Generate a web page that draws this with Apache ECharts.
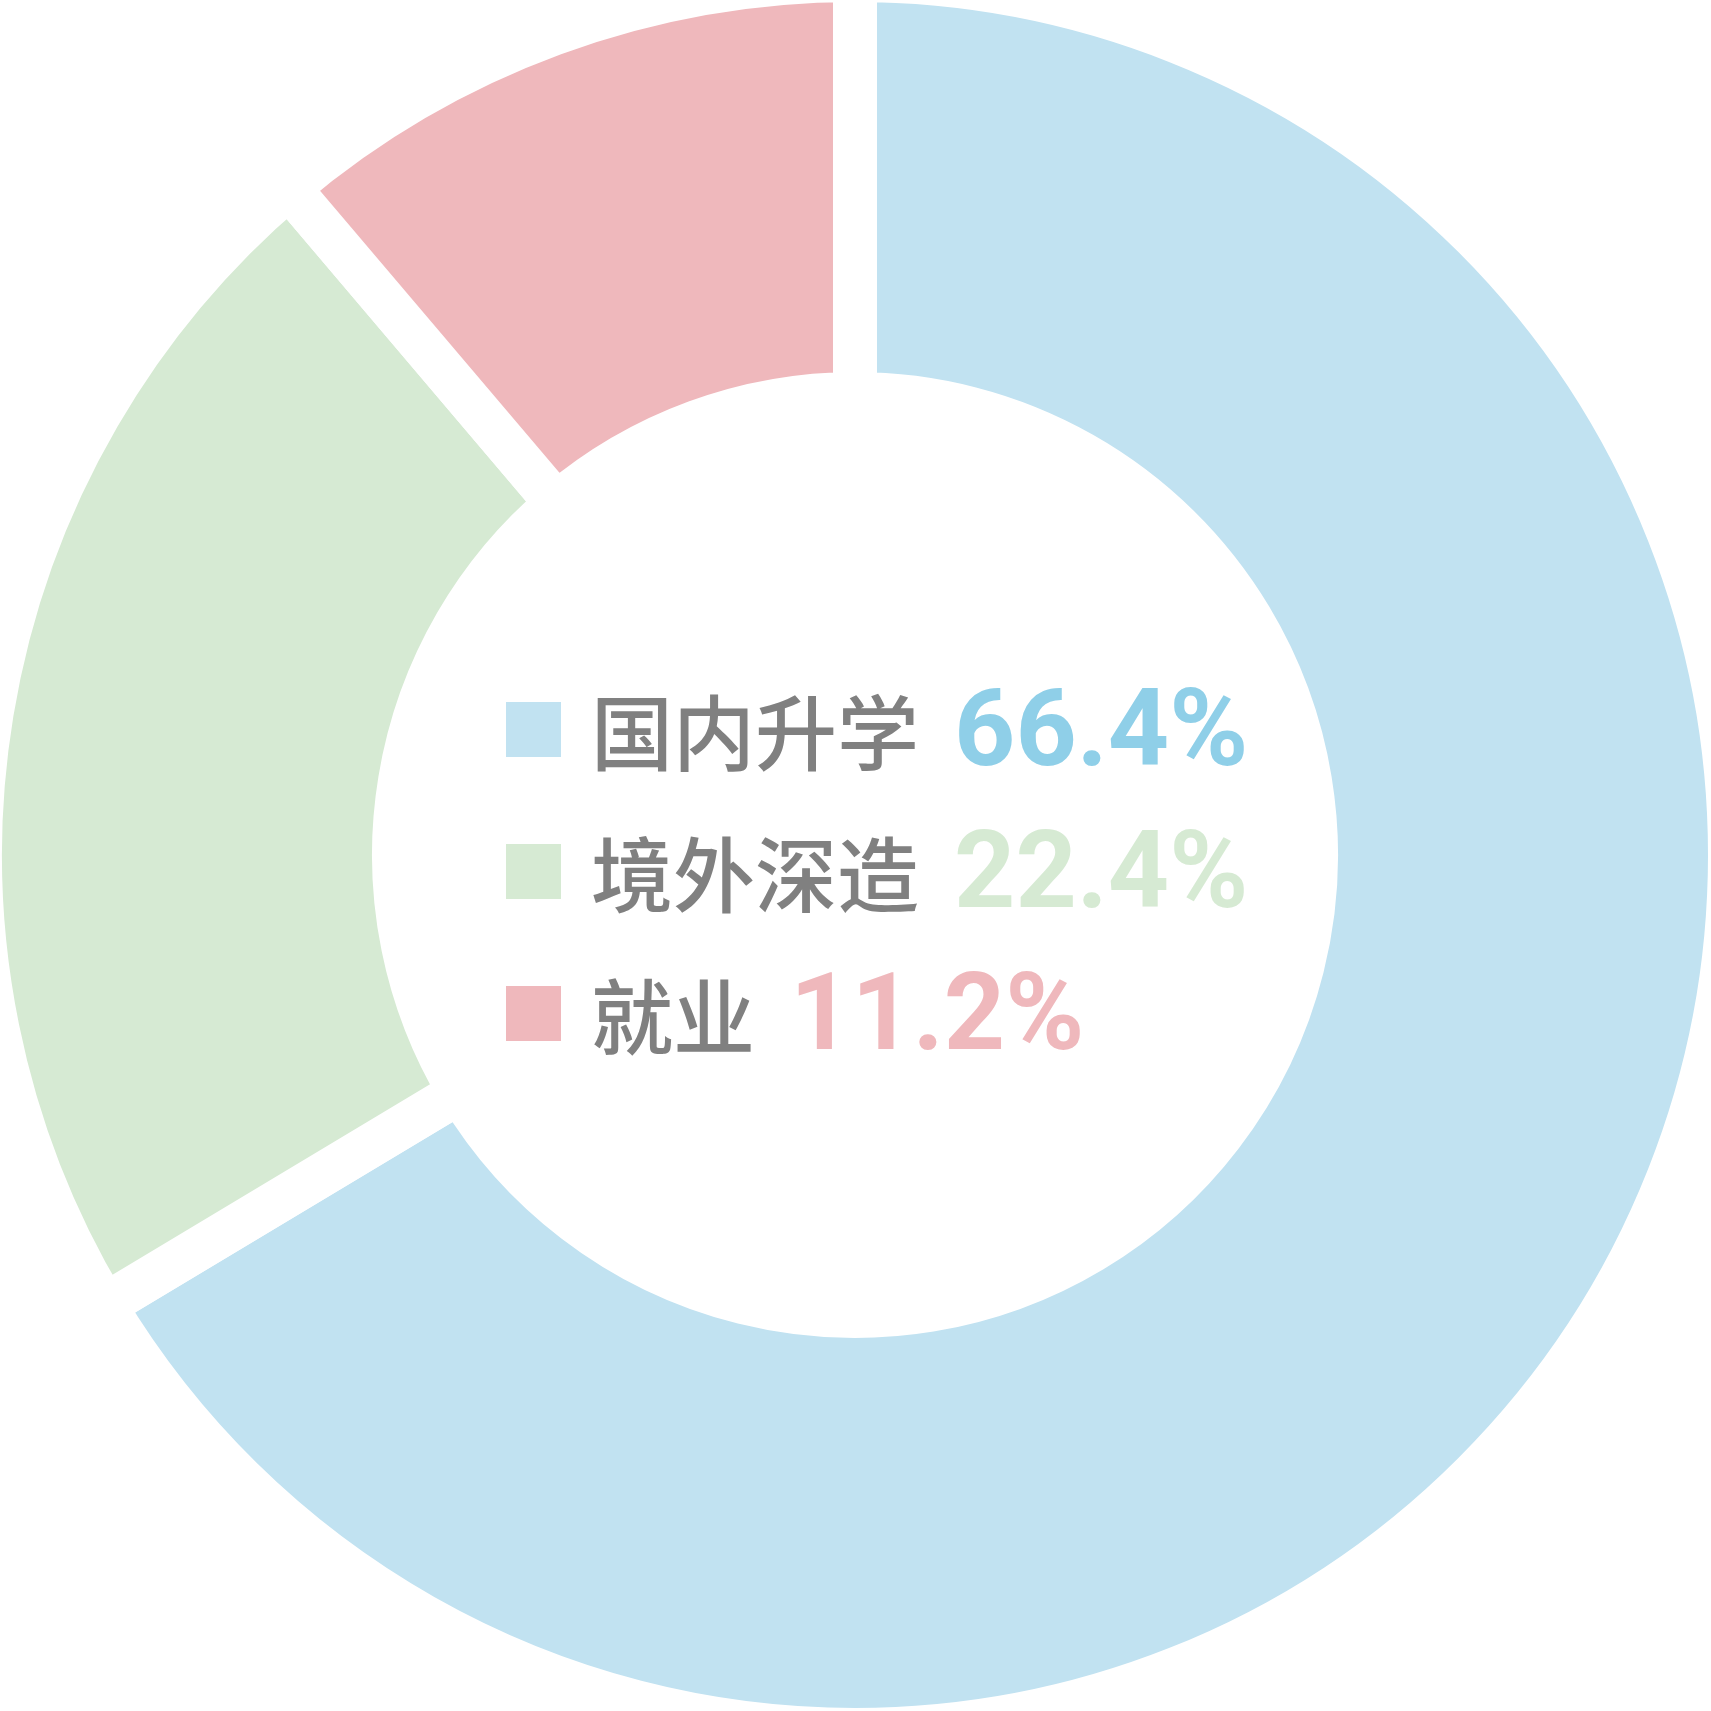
<!DOCTYPE html>
<html><head><meta charset="utf-8">
<script src="https://cdn.jsdelivr.net/npm/echarts@6/dist/echarts.min.js"></script>
<style>html,body{margin:0;padding:0;background:#fff}#c{width:1711px;height:1711px}</style>
</head><body><div id="c"></div>
<script>
const categories = ['国内升学', '境外深造', '就业'];
const values = [66.4, 22.4, 11.2];
const sliceColors = ['#c1e2f1', '#d6ead3', '#efb8bc'];
const valueColors = ['#8fcfe8', '#d6ead3', '#efb8bc'];

const chart = echarts.init(document.getElementById('c'), null, {renderer: 'canvas'});
const rich = {
  n: {fontFamily: 'Noto Sans CJK SC', fontWeight: 500, fontSize: 82, color: '#808080', padding: [6, 0, 0, 24], lineHeight: 86}
};
valueColors.forEach((c, i) => {
  rich['v' + i] = {fontFamily: 'Roboto', fontWeight: 'bold', fontSize: 107, color: c, padding: [18, 0, 0, 35], lineHeight: 86};
});
chart.setOption({
  animation: false,
  backgroundColor: '#ffffff',
  legend: {
    orient: 'vertical',
    left: 504,
    top: 667,
    padding: 0,
    itemWidth: 57,
    itemHeight: 57,
    itemGap: 17,
    icon: 'rect',
    selectedMode: false,
    data: categories,
    formatter: name => {
      const i = categories.indexOf(name);
      return '{n|' + name + '}{v' + i + '|' + values[i].toFixed(1) + '%}';
    },
    textStyle: {rich: rich}
  },
  series: [{
    type: 'pie',
    center: [855, 855],
    radius: [461, 875],
    startAngle: 90,
    clockwise: true,
    silent: true,
    label: {show: false},
    labelLine: {show: false},
    emphasis: {disabled: true},
    itemStyle: {borderColor: '#ffffff', borderWidth: 44},
    data: categories.map((name, i) => ({name: name, value: values[i], itemStyle: {color: sliceColors[i]}}))
  }]
});
</script>
</body></html>
